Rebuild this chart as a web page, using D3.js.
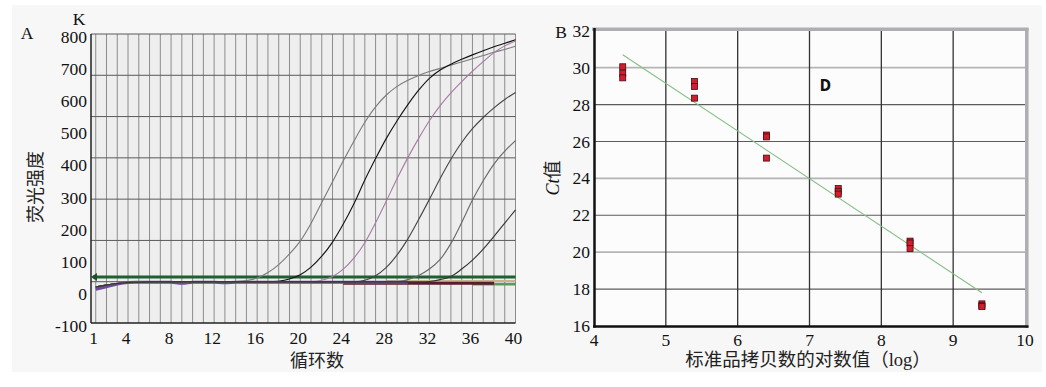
<!DOCTYPE html>
<html><head><meta charset="utf-8">
<script src="https://cdn.jsdelivr.net/npm/d3@7"></script>
<style>
html,body{margin:0;padding:0;background:#fff;}
svg{display:block;}
text{font-family:"Liberation Serif","Noto Sans CJK SC",serif;fill:#111;}
</style></head>
<body>
<script>
// ---------- Panel A data ----------
const cycles = d3.range(1, 41);
const ampYTicks = [-100, 0, 100, 200, 300, 400, 500, 600, 700, 800];
const cycleTicks = [1, 4, 8, 12, 16, 20, 24, 28, 32, 36, 40];
const threshold = 43;
const curve1 = [12,18,23,26,27,28,28,28,28,28,28,28,28,29,32,40,57,82,115,155,210,275,340,405,467,525,573,610,637,656,671,683,693,703,713,723,733,743,752,762];
const curve2 = [12,18,23,26,27,28,28,28,28,28,28,28,28,28,28,28,28,30,37,50,74,108,152,208,272,345,412,475,530,580,625,662,688,706,721,735,748,760,771,782];
const curve3 = [12,18,23,26,27,28,28,28,28,28,28,28,28,28,28,28,28,28,28,28,28,33,45,68,103,150,212,280,350,415,475,530,577,617,652,684,714,742,763,778];
const curve4 = [12,18,23,26,27,28,28,28,28,28,28,28,28,28,28,28,28,28,28,28,28,28,28,28,28,33,47,73,112,162,222,285,350,410,462,505,540,570,596,618];
const curve5 = [12,18,23,26,27,28,28,28,28,28,28,28,28,28,28,28,28,28,28,28,28,28,28,28,28,28,28,28,28,35,48,68,98,148,213,283,343,395,435,468];
const curve6 = [12,18,23,26,27,28,28,28,28,28,28,28,28,28,28,28,28,28,28,28,28,28,28,28,28,28,28,28,28,28,28,29,35,45,68,96,130,170,211,252];
const flatA = [5,13,21,26,27,27,27,27,24,27,27,27,25,27,27,27,27,27,27,27,27,27,27,27,27,27,27,27,27,27,null,null,null,null,null,null,null,null,null,null];
const flatB = [null,null,null,null,null,null,null,null,null,null,null,null,null,null,null,null,null,null,null,null,null,null,null,24,24,24,24,24,24,24,24,24,24,24,24,24,24,24,null,null];
const flatC = [null,null,null,null,null,null,null,null,null,null,null,null,null,null,null,null,null,null,null,null,null,null,null,null,null,null,null,31,31,31,31,31,31,31,31,31,31,31,31,31];
const flatD = [null,null,null,null,null,null,null,null,null,null,null,null,null,null,null,null,null,null,null,null,null,null,null,null,null,null,null,null,null,null,null,null,null,null,null,21,21,21,21,21];

// ---------- Panel B data ----------
const logTicks = [4, 5, 6, 7, 8, 9, 10];
const ctTicks = [16, 18, 20, 22, 24, 26, 28, 30, 32];
const logCopies = [4.4,4.4,4.4,5.4,5.4,5.4,6.4,6.4,6.4,7.4,7.4,7.4,8.4,8.4,8.4,9.4,9.4,9.4];
const ctValues  = [30.05,29.7,29.45,29.25,28.98,28.35,26.35,26.25,25.1,23.45,23.3,23.15,20.6,20.5,20.2,17.2,17.1,17.05];
const fitX = [4.4, 9.4];
const fitY = [30.7, 17.8];
const lightCtGrid = [20, 24, 30];

const W = 1046, H = 387;
const svg = d3.select("body").append("svg").attr("width", W).attr("height", H);
svg.append("rect").attr("x", 12).attr("y", 5).attr("width", 1030).attr("height", 367).attr("fill", "#f7f7f7").style("fill", "#f7f7f7");

// ================= Panel A =================
const xA = d3.scaleLinear().domain([0.56, 40]).range([91, 515.5]);
const yA = d3.scaleLinear().domain([-100, 800]).range([323, 34]);
const gridA = d3.scaleLinear().domain([0, 7]).range([323, 34]);
const gA = svg.append("g");
gA.append("rect").attr("x", 91).attr("y", 34).attr("width", 424.5).attr("height", 289).attr("fill", "#eeeeee");
gA.selectAll("line.v").data(cycles).join("line")
  .attr("x1", d => xA(d)).attr("x2", d => xA(d)).attr("y1", 34).attr("y2", 323)
  .attr("stroke", "#8c8c8c").attr("stroke-width", 1);
gA.selectAll("line.h").data(d3.range(1, 8)).join("line")
  .attr("x1", 91).attr("x2", 515.5).attr("y1", d => gridA(d)).attr("y2", d => gridA(d))
  .attr("stroke", "#5a5a5a").attr("stroke-width", 1);
gA.append("line").attr("x1", 91).attr("x2", 91).attr("y1", 34).attr("y2", 323).attr("stroke", "#222").attr("stroke-width", 1.5);
gA.append("line").attr("x1", 91).attr("x2", 515.5).attr("y1", 323).attr("y2", 323).attr("stroke", "#222").attr("stroke-width", 1.5);

const lineA = d3.line().defined(d => d[1] != null).x(d => xA(d[0])).y(d => yA(d[1])).curve(d3.curveCatmullRom.alpha(0.5));
const mk = arr => cycles.map((c, i) => [c, arr[i]]);
const flats = [[flatC, "#c9b48e", 2], [flatD, "#5c9a5c", 2.5], [flatB, "#5a1c30", 3], [flatA, "#6e4a9e", 3]];
flats.forEach(f => gA.append("path").attr("d", lineA(mk(f[0]))).attr("fill", "none").attr("stroke", f[1]).attr("stroke-width", f[2]));
// threshold
gA.append("line").attr("x1", 93).attr("x2", 515.5).attr("y1", yA(threshold)).attr("y2", yA(threshold))
  .attr("stroke", "#1f5f30").attr("stroke-width", 3);
gA.append("path").attr("d", `M${xA(0.56)},${yA(threshold)} l6,-4 l0,8 z`).attr("fill", "#1f4f28");
const curves = [[curve1, "#7a7a7a"], [curve2, "#111"], [curve3, "#a77aa2"], [curve4, "#444"], [curve5, "#666"], [curve6, "#333"]];
curves.forEach(c => gA.append("path").attr("d", lineA(mk(c[0]))).attr("fill", "none").attr("stroke", c[1]).attr("stroke-width", 1.1));

gA.selectAll("text.yt").data(ampYTicks).join("text")
  .attr("x", 87).attr("y", d => yA(d) + 9).attr("text-anchor", "end").attr("font-size", 17.5).text(d => d);
gA.selectAll("text.xt").data(cycleTicks).join("text")
  .attr("x", d => xA(d) - 2).attr("y", 344).attr("text-anchor", "middle").attr("font-size", 17.5).text(d => d);
gA.append("text").attr("x", 79).attr("y", 25).attr("text-anchor", "middle").attr("font-size", 17.5).text("K");
gA.append("text").attr("x", 27).attr("y", 39).attr("text-anchor", "middle").attr("font-size", 17.5).text("A");
gA.append("text").attr("transform", "translate(42,187) rotate(-90)").attr("text-anchor", "middle").attr("font-size", 18)
  .style("fill", "#222").text("荧光强度");
gA.append("text").attr("x", 317).attr("y", 367).attr("text-anchor", "middle").attr("font-size", 18)
  .style("fill", "#222").text("循环数");

// ================= Panel B =================
const xB = d3.scaleLinear().domain([4, 10]).range([594, 1025]);
const yB = d3.scaleLinear().domain([16, 32]).range([326, 30.8]);
const gB = svg.append("g");
gB.append("rect").attr("x", 594).attr("y", 30.8).attr("width", 431).attr("height", 295.2).attr("fill", "#fcfcfc");
gB.selectAll("line.h").data(ctTicks.slice(1, -1)).join("line")
  .attr("x1", 594).attr("x2", 1025).attr("y1", d => yB(d)).attr("y2", d => yB(d))
  .attr("stroke", d => lightCtGrid.includes(d) ? "#b4b4b4" : "#5c5c5c")
  .attr("stroke-width", d => lightCtGrid.includes(d) ? 1.8 : 1.1);
gB.selectAll("line.v").data(logTicks.slice(1, -1)).join("line")
  .attr("x1", d => xB(d)).attr("x2", d => xB(d)).attr("y1", 30.8).attr("y2", 326)
  .attr("stroke", "#333").attr("stroke-width", 1.3);
gB.append("line").attr("x1", 592).attr("x2", 1028.5).attr("y1", 29.3).attr("y2", 29.3).attr("stroke", "#aeaeb2").attr("stroke-width", 3.5);
gB.append("line").attr("x1", 1026.8).attr("x2", 1026.8).attr("y1", 28).attr("y2", 328).attr("stroke", "#aeaeb2").attr("stroke-width", 3.5);
gB.append("line").attr("x1", 594.5).attr("x2", 594.5).attr("y1", 28).attr("y2", 327.5).attr("stroke", "#111").attr("stroke-width", 2.5);
gB.append("line").attr("x1", 593).attr("x2", 1028.5).attr("y1", 326.5).attr("y2", 326.5).attr("stroke", "#111").attr("stroke-width", 2.5);

gB.append("line").attr("x1", xB(fitX[0])).attr("y1", yB(fitY[0])).attr("x2", xB(fitX[1])).attr("y2", yB(fitY[1]))
  .attr("stroke", "#86be86").attr("stroke-width", 1.1);
gB.selectAll("rect.pt").data(logCopies.map((x, i) => [x, ctValues[i]])).join("rect")
  .attr("x", d => xB(d[0]) - 3).attr("y", d => yB(d[1]) - 3).attr("width", 6).attr("height", 6)
  .attr("fill", "#d01e2c").attr("stroke", "#4a0a10").attr("stroke-width", 0.8);
gB.append("text").attr("x", xB(7.22)).attr("y", yB(29.06) + 6).attr("text-anchor", "middle")
  .attr("font-size", 15).style("font-weight", "bold").style("font-stretch", "condensed")
  .style("font-family", "'DejaVu Sans', sans-serif").text("D");

gB.selectAll("text.yt").data(ctTicks).join("text")
  .attr("x", 590).attr("y", d => yB(d) + 6).attr("text-anchor", "end").attr("font-size", 17.5).text(d => d);
gB.selectAll("text.xt").data(logTicks).join("text")
  .attr("x", d => xB(d)).attr("y", 346).attr("text-anchor", "middle").attr("font-size", 17.5).text(d => d);
gB.append("text").attr("x", 561).attr("y", 38).attr("text-anchor", "middle").attr("font-size", 17.5).text("B");
const ctLab = gB.append("text").attr("transform", "translate(559,178) rotate(-90)").attr("text-anchor", "middle").attr("font-size", 18);
ctLab.append("tspan").attr("font-style", "italic").text("Ct");
ctLab.append("tspan").style("fill", "#222").text("值");
gB.append("text").attr("x", 808).attr("y", 366).attr("text-anchor", "middle").attr("font-size", 18.5)
  .style("fill", "#222").text("标准品拷贝数的对数值（log）");
</script>
</body></html>
